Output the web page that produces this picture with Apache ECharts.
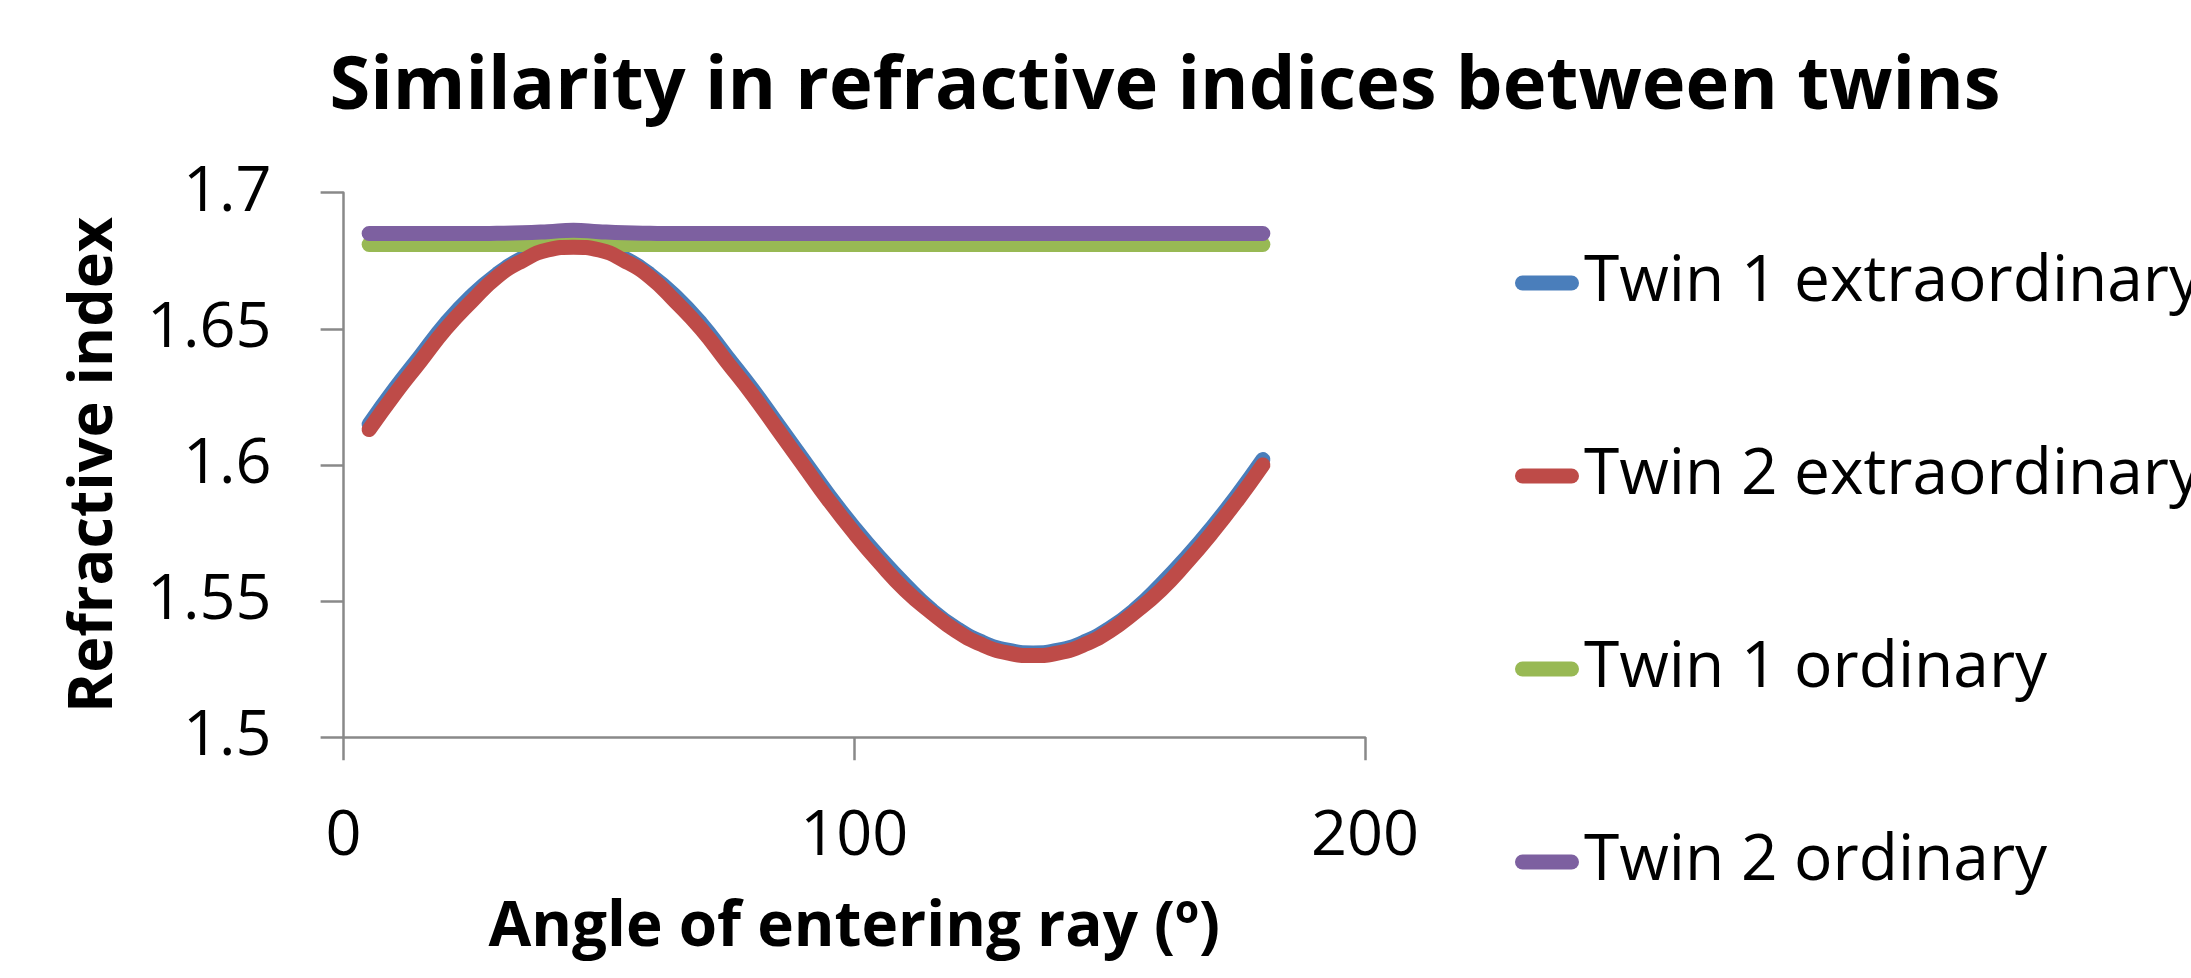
<!DOCTYPE html>
<html>
<head>
<meta charset="utf-8">
<script src="https://cdn.jsdelivr.net/npm/echarts@6/dist/echarts.min.js"></script>
<style>
html,body{margin:0;padding:0;background:#fff;}
#chart{width:2191px;height:978px;}
</style>
</head>
<body>
<div id="chart"></div>
<script>
// ---- data ----
var chartTitle = 'Similarity in refractive indices between twins';
var xAxisTitle = 'Angle of entering ray (\u00BA)';
var yAxisTitle = 'Refractive index';
var seriesNames = ['Twin 1 extraordinary', 'Twin 2 extraordinary', 'Twin 1 ordinary', 'Twin 2 ordinary'];
var angles = [5,10,15,20,25,30,35,40,45,50,55,60,65,70,75,80,85,90,95,100,105,110,115,120,125,130,135,140,145,150,155,160,165,170,175,180];
var twin1Extra = [1.615,1.628,1.640,1.652,1.662,1.670,1.676,1.680,1.681,1.680,1.676,1.670,1.662,1.652,1.640,1.628,1.615,1.602,1.589,1.577,1.566,1.556,1.547,1.540,1.535,1.532,1.531,1.532,1.535,1.540,1.547,1.556,1.566,1.577,1.589,1.602];
var twin2Extra = [1.613,1.626,1.638,1.650,1.660,1.669,1.675,1.679,1.680,1.679,1.675,1.669,1.660,1.650,1.638,1.626,1.613,1.600,1.587,1.575,1.564,1.554,1.546,1.539,1.534,1.531,1.530,1.531,1.534,1.539,1.546,1.554,1.564,1.575,1.587,1.600];
var twin1Ord = [1.681,1.681,1.681,1.681,1.681,1.681,1.681,1.681,1.681,1.681,1.681,1.681,1.681,1.681,1.681,1.681,1.681,1.681,1.681,1.681,1.681,1.681,1.681,1.681,1.681,1.681,1.681,1.681,1.681,1.681,1.681,1.681,1.681,1.681,1.681,1.681];
var twin2Ord = [1.685,1.685,1.685,1.685,1.685,1.6851,1.6853,1.6857,1.6862,1.6857,1.6853,1.6851,1.685,1.685,1.685,1.685,1.685,1.685,1.685,1.685,1.685,1.685,1.685,1.685,1.685,1.685,1.685,1.685,1.685,1.685,1.685,1.685,1.685,1.685,1.685,1.685];
var xTicks = [0, 100, 200];
var yTicks = [1.5, 1.55, 1.6, 1.65, 1.7];

var colors = ['#4A7EBB', '#BE4B48', '#98B954', '#7D60A0'];
var zOrder = [2, 4, 3, 5];
var valueSets = [twin1Extra, twin2Extra, twin1Ord, twin2Ord];

function pairs(xs, ys) { return xs.map(function (x, i) { return [x, ys[i]]; }); }

var FONT = '"Open Sans", "Noto Sans", sans-serif';
var chart = echarts.init(document.getElementById('chart'), null, { renderer: 'canvas' });

var series = seriesNames.map(function (name, i) {
  return {
    name: name,
    type: 'line',
    data: pairs(angles, valueSets[i]),
    smooth: true,
    showSymbol: false,
    symbol: 'none',
    z: zOrder[i],
    lineStyle: { width: 15, color: colors[i], cap: 'round', join: 'round' },
    itemStyle: { color: colors[i] },
    emphasis: { disabled: true },
    animation: false
  };
});

chart.setOption({
  animation: false,
  backgroundColor: '#ffffff',
  color: colors,
  title: {
    text: chartTitle,
    left: 1160,
    top: 46,
    textAlign: 'center',
    textStyle: { fontFamily: FONT, fontWeight: 'bold', fontSize: 74, color: '#000' }
  },
  legend: {
    orient: 'vertical',
    left: 1510,
    top: 246,
    itemWidth: 64,
    itemHeight: 15,
    itemGap: 129,
    icon: 'path://M7.5,0 H56.5 A7.5,7.5 0 0 1 56.5,15 H7.5 A7.5,7.5 0 0 1 7.5,0 Z',
    textStyle: { fontFamily: FONT, fontSize: 64, color: '#000', lineHeight: 60 },
    data: seriesNames
  },
  grid: { left: 343.6, right: 826, top: 192.7, bottom: 240.7, containLabel: false },
  xAxis: {
    type: 'value',
    min: xTicks[0],
    max: xTicks[xTicks.length - 1],
    interval: xTicks[1] - xTicks[0],
    name: xAxisTitle,
    nameLocation: 'middle',
    nameGap: 160,
    nameTextStyle: { fontFamily: FONT, fontWeight: 'bold', fontSize: 62, color: '#000' },
    axisLine: { show: true, onZero: false, lineStyle: { color: '#898989', width: 2.5 } },
    axisTick: { show: true, inside: false, length: 23, lineStyle: { color: '#898989', width: 2.5 } },
    axisLabel: { fontFamily: FONT, fontSize: 63, color: '#000', margin: 68 },
    splitLine: { show: false }
  },
  yAxis: {
    type: 'value',
    min: yTicks[0],
    max: yTicks[yTicks.length - 1],
    interval: 0.05,
    name: yAxisTitle,
    nameLocation: 'middle',
    nameGap: 218,
    nameTextStyle: { fontFamily: FONT, fontWeight: 'bold', fontSize: 61, color: '#000' },
    axisLine: { show: true, lineStyle: { color: '#898989', width: 2.5 } },
    axisTick: { show: true, inside: false, length: 23, lineStyle: { color: '#898989', width: 2.5 } },
    axisLabel: {
      fontFamily: FONT, fontSize: 63, color: '#000', margin: 72,
      padding: [8, 0, 0, 0],
      formatter: function (v) {
        var t = yTicks.filter(function (y) { return Math.abs(y - v) < 1e-9; })[0];
        return t === undefined ? '' : String(t);
      }
    },
    splitLine: { show: false }
  },
  series: series
});
</script>
</body>
</html>
